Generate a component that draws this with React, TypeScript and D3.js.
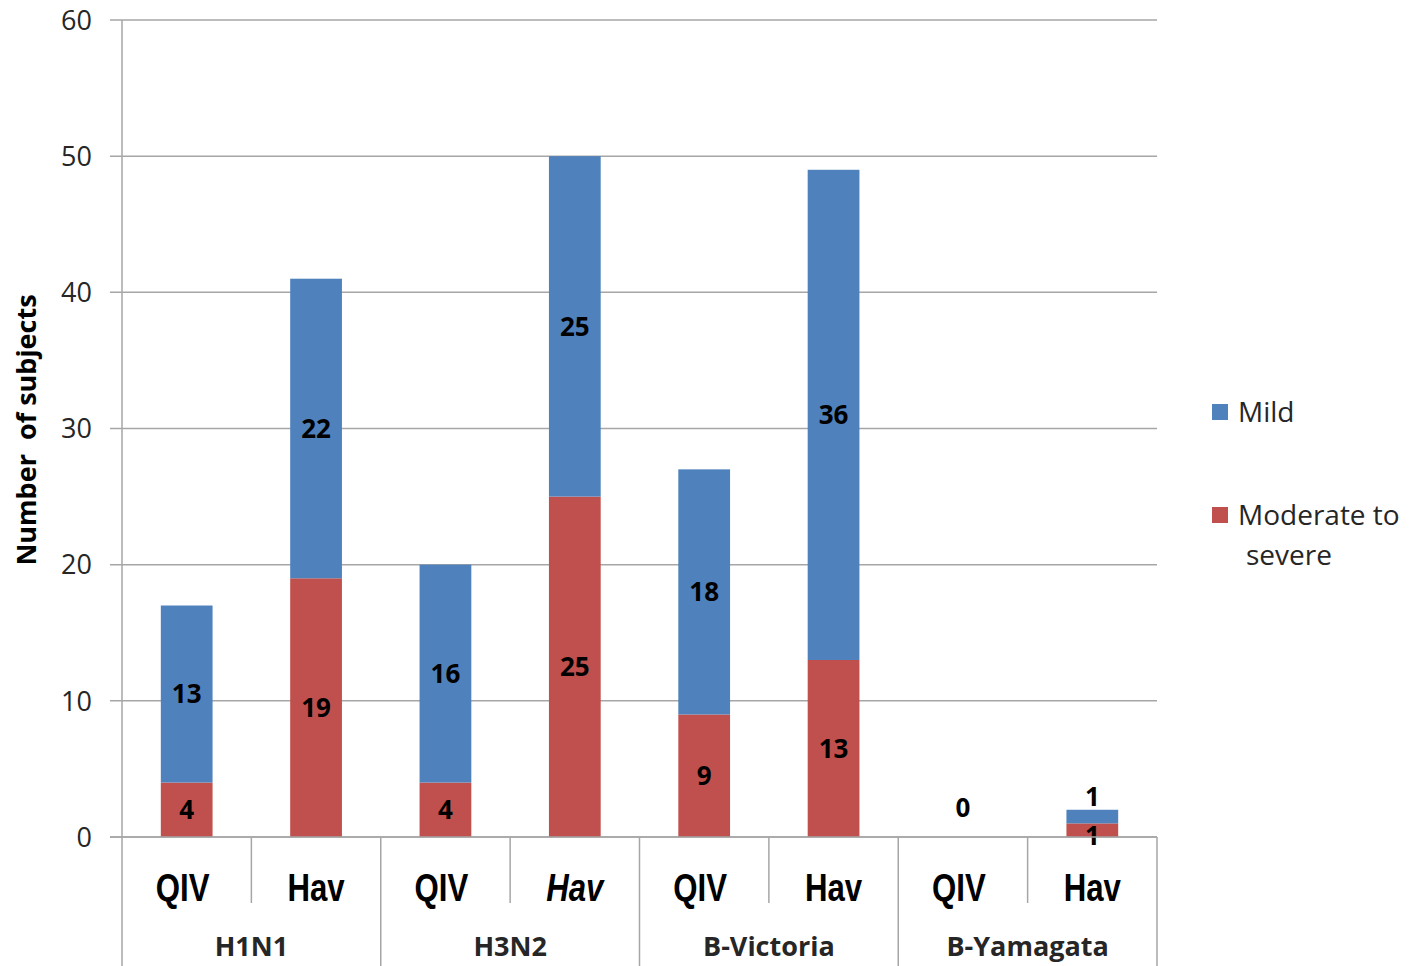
import React from "react";
import * as d3 from "d3";

// Strain groups and vaccine sub-categories
const groups = ["H1N1", "H3N2", "B-Victoria", "B-Yamagata"];
const vaccines = ["QIV", "Hav"];
// Subjects per bar, in group order (QIV, Hav for each strain)
const mild = [13, 22, 16, 25, 18, 36, 0, 1];
const moderate = [4, 19, 4, 25, 9, 13, 0, 1];
const yTicks = [0, 10, 20, 30, 40, 50, 60];
const seriesNames = ["Mild", "Moderate to severe"];

const W = 1420;
const H = 966;
const M = { left: 122, right: 1157, top: 20, bottom: 837 };
const BLUE = "#4F81BD";
const RED = "#C0504D";
const GRID = "#a6a6a6";
const TEXT = "#262626";
const SANS = "'Open Sans', 'Noto Sans', sans-serif";
const NARROW = "'Liberation Sans', Arial, sans-serif";

export default function App() {
  const bars = groups.flatMap((g, gi) =>
    vaccines.map((v, vi) => ({
      key: `${g}-${v}`,
      group: g,
      vac: v,
      italic: gi === 1 && vi === 1,
      mild: mild[gi * 2 + vi],
      moderate: moderate[gi * 2 + vi],
    }))
  );

  const x = d3
    .scaleBand<string>()
    .domain(bars.map((b) => b.key))
    .range([M.left, M.right])
    .paddingInner(0.6)
    .paddingOuter(0.3);
  const y = d3.scaleLinear().domain([0, 60]).range([M.bottom, M.top]);

  const stack = d3
    .stack<(typeof bars)[number]>()
    .keys(["moderate", "mild"])
    .value((d, k) => (d as any)[k]);
  const layers = stack(bars);
  const colors: Record<string, string> = { moderate: RED, mild: BLUE };

  const slotEdge = (k: number) => M.left + ((M.right - M.left) / bars.length) * k;

  return (
    <svg
      width={W}
      height={H}
      style={{ position: "absolute", left: 0, top: 0, background: "#fff" }}
    >
      {/* horizontal gridlines with outside tick stubs */}
      {yTicks.map((t) => (
        <g key={t}>
          <line x1={110} x2={M.right} y1={y(t)} y2={y(t)} stroke={GRID} strokeWidth={1.5} />
          <text
            x={92}
            y={y(t)}
            dy="0.36em"
            textAnchor="end"
            fontFamily={SANS}
            fontSize={27}
            fill={TEXT}
          >
            {t}
          </text>
        </g>
      ))}

      {/* y axis line, continuing through the category area */}
      <line x1={M.left} x2={M.left} y1={M.top} y2={H} stroke={GRID} strokeWidth={1.5} />

      {/* stacked bars */}
      {layers.map((layer) =>
        layer.map((seg, i) => {
          const b = bars[i];
          const h = y(seg[0]) - y(seg[1]);
          if (h <= 0) return null;
          return (
            <rect
              key={`${layer.key}-${b.key}`}
              x={x(b.key)}
              y={y(seg[1])}
              width={x.bandwidth()}
              height={h}
              fill={colors[layer.key]}
            />
          );
        })
      )}

      {/* value labels */}
      {layers.map((layer) =>
        layer.map((seg, i) => {
          const b = bars[i];
          const v = seg[1] - seg[0];
          const cx = (x(b.key) as number) + x.bandwidth() / 2;
          const hPx = y(seg[0]) - y(seg[1]);
          let cy = (y(seg[0]) + y(seg[1])) / 2;
          if (v === 0) {
            if (layer.key !== "mild") return null;
            cy = y(0) - 29;
          } else if (hPx < 20) {
            cy = layer.key === "mild" ? y(seg[1]) - 13 : y(seg[0]) - 1;
          }
          return (
            <text
              key={`lbl-${layer.key}-${b.key}`}
              x={cx}
              y={cy}
              dy="0.36em"
              textAnchor="middle"
              fontFamily={SANS}
              fontWeight={700}
              fontSize={26}
              fill="#000"
            >
              {v}
            </text>
          );
        })
      )}

      {/* category axis */}
      <line x1={110} x2={M.right} y1={M.bottom} y2={M.bottom} stroke={GRID} strokeWidth={1.5} />
      {d3.range(1, bars.length + 1).map((k) => (
        <line
          key={`sep-${k}`}
          x1={slotEdge(k)}
          x2={slotEdge(k)}
          y1={M.bottom}
          y2={k % 2 === 0 ? H : 903}
          stroke={GRID}
          strokeWidth={1.5}
        />
      ))}
      {bars.map((b) => (
        <text
          key={`vac-${b.key}`}
          transform={`translate(${(x(b.key) as number) + x.bandwidth() / 2 - (b.vac === "QIV" ? 4 : 0)}, 901) scale(0.8, 1)`}
          textAnchor="middle"
          fontFamily={NARROW}
          fontWeight={700}
          fontStyle={b.italic ? "italic" : "normal"}
          fontSize={39}
          fill="#000"
        >
          {b.vac}
        </text>
      ))}
      {groups.map((g, gi) => (
        <text
          key={`grp-${g}`}
          x={(slotEdge(gi * 2) + slotEdge(gi * 2 + 2)) / 2}
          y={956}
          textAnchor="middle"
          fontFamily={SANS}
          fontWeight={700}
          fontSize={27}
          fill={TEXT}
        >
          {g}
        </text>
      ))}

      {/* y axis title */}
      <text
        transform={`translate(36, 430) rotate(-90)`}
        textAnchor="middle"
        fontFamily={SANS}
        fontWeight={700}
        fontSize={27}
        fill="#000"
        style={{ whiteSpace: "pre" }}
      >
        {"Number  of subjects"}
      </text>

      {/* legend */}
      <g fontFamily={SANS} fontSize={28} fill={TEXT}>
        <rect x={1212} y={404} width={16} height={16} fill={BLUE} />
        <text x={1238} y={422}>{seriesNames[0]}</text>
        <rect x={1212} y={507} width={16} height={16} fill={RED} />
        <text x={1238} y={525}>Moderate to</text>
        <text x={1246} y={565}>severe</text>
      </g>
    </svg>
  );
}
